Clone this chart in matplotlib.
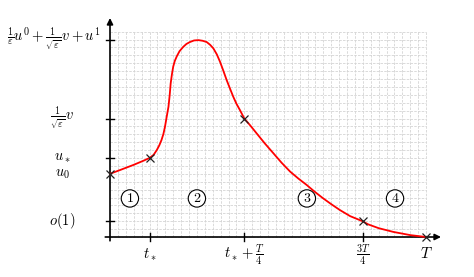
import matplotlib.pyplot as plt
import numpy as np

plt.rcParams['mathtext.fontset'] = 'cm'
plt.rcParams['font.family'] = ['DejaVu Serif']

# curve (units: grid step = 0.25)
curve_x = [0.0, 0.32, 0.74, 1.05, 1.25, 1.38, 1.48, 1.56, 1.63, 1.69, 1.74,
           1.79, 1.85, 1.89, 1.92, 1.96, 2.0, 2.05, 2.11, 2.2, 2.32, 2.42,
           2.53, 2.66, 2.8, 2.93, 3.06, 3.17, 3.27, 3.38, 3.48, 3.58, 3.69,
           3.8, 3.9, 4.0, 4.11, 4.25, 4.43, 4.64, 4.9, 5.17, 5.43, 5.7,
           5.96, 6.22, 6.48, 6.75, 7.0, 7.28, 7.6, 7.99, 8.17, 8.5, 8.97,
           9.5, 10.0]
curve_y = [2.0, 2.12, 2.28, 2.41, 2.5, 2.6, 2.75, 2.9, 3.07, 3.26, 3.49,
           3.78, 4.12, 4.5, 4.86, 5.15, 5.39, 5.57, 5.71, 5.88, 6.02, 6.11,
           6.17, 6.22, 6.23, 6.21, 6.17, 6.08, 5.97, 5.78, 5.55, 5.28, 4.97,
           4.69, 4.44, 4.22, 4.02, 3.75, 3.54, 3.28, 2.96, 2.65, 2.35, 2.07,
           1.85, 1.65, 1.43, 1.22, 1.04, 0.85, 0.66, 0.5, 0.4, 0.28, 0.16,
           0.06, 0.0]

mark_x = [0.0, 1.25, 4.25, 8.0, 10.0]
mark_y = [2.0, 2.5, 3.75, 0.5, 0.0]

xtick_pos = [1.25, 4.25, 8.0]
xtick_lbl = [r'$t_*$', r'$t_*+\frac{T}{4}$', r'$\frac{3T}{4}$']
ytick_pos = [0.5, 2.5, 3.75, 6.25]
ytick_lbl = [r'$o(1)$', r'$u_*$', r'$\frac{1}{\sqrt{\varepsilon}}v$',
             r'$\frac{1}{\varepsilon}u^0+\frac{1}{\sqrt{\varepsilon}}v+u^1$']

regions = ['1', '2', '3', '4']
region_x = [0.63, 2.75, 6.23, 9.02]
region_y = 1.22

T_end = 10.0
y_top = 6.5

# 1 data unit = 31.6 px, origin at pixel (110, 237)
s = 31.6
fig = plt.figure(figsize=(4.74, 2.77), dpi=100)
ax = fig.add_axes([0, 0, 1, 1])
ax.set_xlim(-110 / s, 364 / s)
ax.set_ylim(-40 / s, 237 / s)
ax.axis('off')

# fine dashed grid
grid_kw = dict(color='#d4d4d4', lw=0.6, ls=(0, (3, 1.5)), zorder=1)
for gx in np.arange(0, T_end + 0.01, 0.25):
    ax.plot([gx, gx], [0, y_top], **grid_kw)
for gy in np.arange(0, y_top + 0.01, 0.25):
    ax.plot([0, T_end], [gy, gy], **grid_kw)

# axes with arrows
arrow_kw = dict(arrowstyle='-|>', color='k', lw=1.2, mutation_scale=9,
                shrinkA=0, shrinkB=0)
ax.annotate('', xy=(331 / s, 0), xytext=(-0.15, 0), arrowprops=arrow_kw, zorder=4)
ax.annotate('', xy=(0, 219 / s), xytext=(0, -0.12), arrowprops=arrow_kw, zorder=4)

# ticks crossing the axes
tl = 0.14
for xp in xtick_pos:
    ax.plot([xp, xp], [-tl, tl], color='k', lw=1.0, zorder=4)
for yp in ytick_pos:
    ax.plot([-tl, tl], [yp, yp], color='k', lw=1.0, zorder=4)

# curve and markers
ax.plot(curve_x, curve_y, color='red', lw=1.3, zorder=5, solid_joinstyle='round')
ax.plot(mark_x, mark_y, 'x', color='#222222', ms=6, mew=0.9, zorder=6)

# x labels
for xp, lb in zip(xtick_pos, xtick_lbl):
    ax.text(xp, -0.55, lb, ha='center', va='center', fontsize=10.5)
ax.text(T_end, -0.52, r'$T$', ha='center', va='center', fontsize=11)

# y labels
for yp, lb in zip(ytick_pos[:3], ytick_lbl[:3]):
    ax.text(-48 / s, yp, lb, ha='center', va='center', fontsize=10.5)
ax.text(-48 / s, 2.0, r'$u_0$', ha='center', va='center', fontsize=10.5)
ax.text(-0.3, ytick_pos[3], ytick_lbl[3], ha='right', va='center', fontsize=10.5)

# region markers
for rx, r in zip(region_x, regions):
    ax.text(rx, region_y, r'$' + r + '$', ha='center', va='center', fontsize=10,
            bbox=dict(boxstyle='circle,pad=0.12', fc='white', ec='k', lw=0.8),
            zorder=3)

fig.savefig('out.png', dpi=100)
